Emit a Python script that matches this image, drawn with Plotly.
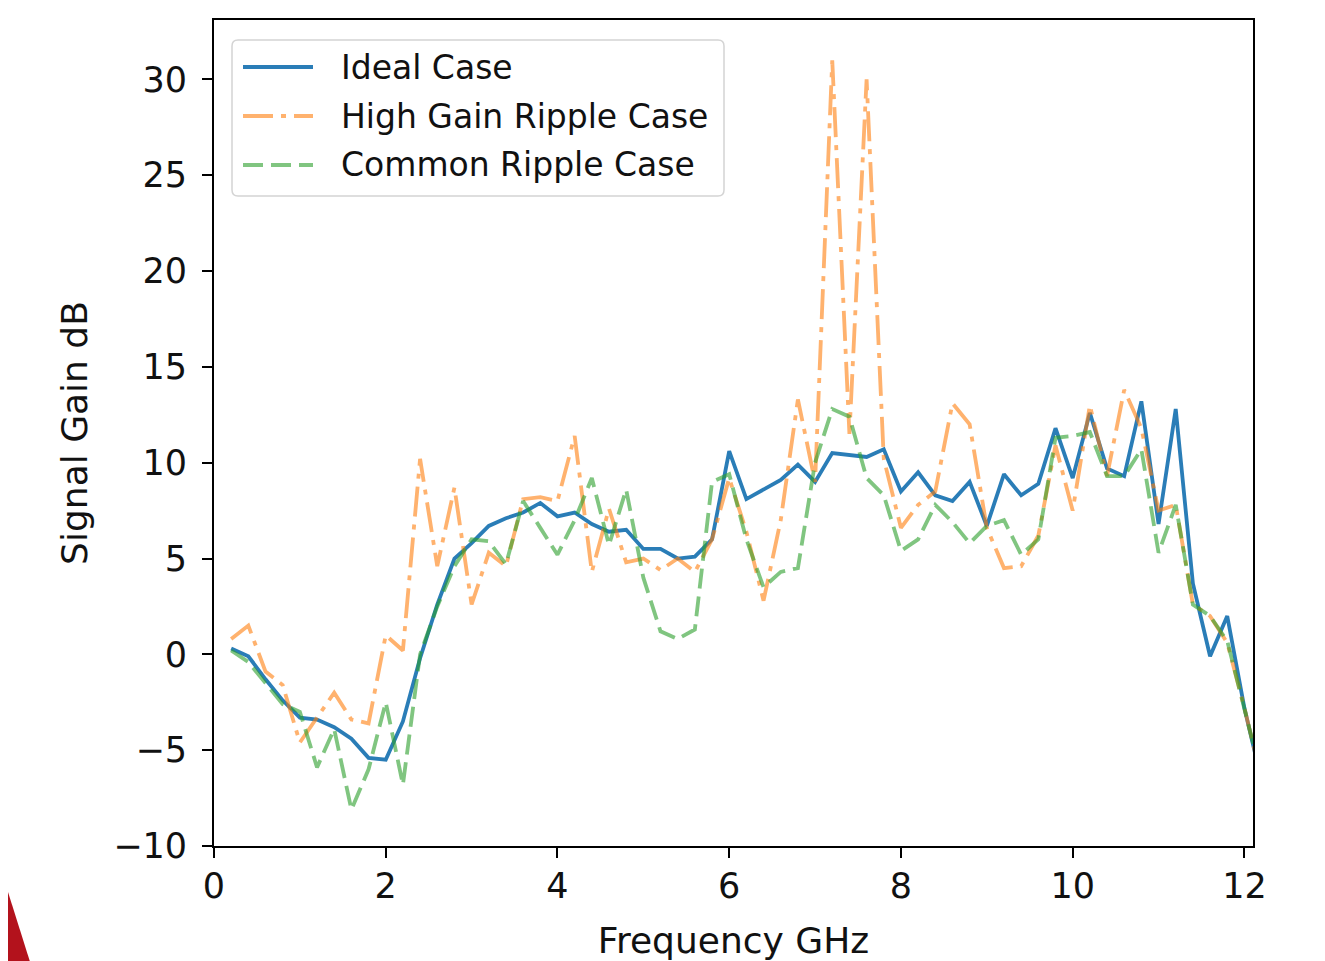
import plotly.graph_objects as go

# ---------------- data ----------------
freq_ghz = [0.2, 0.4, 0.6, 0.8, 1.0, 1.2, 1.4, 1.6, 1.8, 2.0,
            2.2, 2.4, 2.6, 2.8, 3.0, 3.2, 3.4, 3.6, 3.8, 4.0,
            4.2, 4.4, 4.6, 4.8, 5.0, 5.2, 5.4, 5.6, 5.8, 6.0,
            6.2, 6.4, 6.6, 6.8, 7.0, 7.2, 7.4, 7.6, 7.8, 8.0,
            8.2, 8.4, 8.6, 8.8, 9.0, 9.2, 9.4, 9.6, 9.8, 10.0,
            10.2, 10.4, 10.6, 10.8, 11.0, 11.2, 11.4, 11.6, 11.8, 12.0,
            12.2]

ideal_case = [0.3, -0.1, -1.3, -2.4, -3.3, -3.4, -3.8, -4.4, -5.4, -5.5,
              -3.5, -0.2, 2.6, 5.0, 5.8, 6.7, 7.1, 7.4, 7.9, 7.2,
              7.4, 6.8, 6.4, 6.5, 5.5, 5.5, 5.0, 5.1, 6.0, 10.6,
              8.1, 8.6, 9.1, 9.9, 9.0, 10.5, 10.4, 10.3, 10.7, 8.5,
              9.5, 8.3, 8.0, 9.0, 6.7, 9.4, 8.3, 8.9, 11.8, 9.2,
              12.6, 9.7, 9.3, 13.2, 6.8, 12.8, 3.7, -0.1, 2.0, -2.8,
              -6.6]

high_gain_ripple = [0.8, 1.5, -0.9, -1.6, -4.6, -3.3, -2.0, -3.4, -3.6, 1.0,
                    0.2, 10.2, 4.6, 8.7, 2.6, 5.3, 4.6, 8.1, 8.2, 8.0,
                    11.4, 4.3, 7.6, 4.8, 5.0, 4.4, 5.0, 4.3, 6.0, 9.2,
                    6.4, 2.8, 7.0, 13.3, 9.0, 31.0, 11.5, 30.0, 10.2, 6.6,
                    7.8, 8.5, 13.1, 12.0, 6.6, 4.5, 4.6, 6.2, 10.9, 7.5,
                    13.0, 9.3, 13.8, 11.8, 7.5, 7.8, 2.6, 2.0, 0.6, -2.8,
                    -6.5]

common_ripple = [0.2, -0.4, -1.5, -2.6, -3.0, -5.9, -3.9, -8.1, -6.0, -2.5,
                 -6.8, 0.0, 2.5, 4.6, 6.0, 5.9, 4.7, 8.0, 6.6, 5.2,
                 7.0, 9.2, 5.7, 8.6, 4.0, 1.2, 0.8, 1.3, 9.0, 9.4,
                 6.0, 3.5, 4.3, 4.5, 10.0, 12.8, 12.4, 9.2, 8.3, 5.4,
                 6.0, 7.8, 6.9, 5.8, 6.7, 7.0, 5.2, 6.0, 11.3, 11.4,
                 11.6, 9.3, 9.3, 10.7, 5.3, 7.8, 2.6, 2.0, 0.7, -2.8,
                 -6.4]

series_names = ["Ideal Case", "High Gain Ripple Case", "Common Ripple Case"]
x_ticks = [0, 2, 4, 6, 8, 10, 12]
y_ticks = [-10, -5, 0, 5, 10, 15, 20, 25, 30]

# ---------------- styling ----------------
FONT = "DejaVu Sans"
BLUE = "#1f77b4"
ORANGE = "#ff7f0e"
GREEN = "#2ca02c"
LW = 3.8
DASH_ORANGE = "30px,8px,5px,8px"
DASH_GREEN = "20px,8px"

fig = go.Figure()
fig.add_trace(go.Scatter(x=freq_ghz, y=ideal_case, mode="lines", name=series_names[0],
                         line=dict(color=BLUE, width=LW), opacity=0.95, showlegend=False))
fig.add_trace(go.Scatter(x=freq_ghz, y=high_gain_ripple, mode="lines", name=series_names[1],
                         line=dict(color=ORANGE, width=LW, dash=DASH_ORANGE), opacity=0.6,
                         showlegend=False))
fig.add_trace(go.Scatter(x=freq_ghz, y=common_ripple, mode="lines", name=series_names[2],
                         line=dict(color=GREEN, width=LW, dash=DASH_GREEN), opacity=0.6,
                         showlegend=False))

# the page body has an 8px margin: the figure starts at (8, 8) in the window
OFF = 8
WIN_W, WIN_H = 1325, 961
W, H = WIN_W - OFF, WIN_H - OFF
# plot-area edges in window pixels
L, R, T, B = 214, 1253, 20, 846


def px(xp):
    return (xp - L) / (R - L)


def py(yp):
    return (B - yp) / (B - T)


shapes = []
# legend frame (rounded rectangle)
x0, x1, y0, y1 = px(232), px(724), py(196), py(40)
rx, ry = 6 / (R - L), 6 / (B - T)
path = (f"M {x0+rx},{y0} L {x1-rx},{y0} Q {x1},{y0} {x1},{y0+ry} "
        f"L {x1},{y1-ry} Q {x1},{y1} {x1-rx},{y1} L {x0+rx},{y1} "
        f"Q {x0},{y1} {x0},{y1-ry} L {x0},{y0+ry} Q {x0},{y0} {x0+rx},{y0} Z")
shapes.append(dict(type="path", xref="paper", yref="paper", path=path,
                   fillcolor="rgba(255,255,255,0.85)", line=dict(color="#d4d4d4", width=1.5),
                   layer="above"))
annotations = []
rows = [67, 116, 165]
styles = [(BLUE, "solid", 0.95), (ORANGE, DASH_ORANGE, 0.6), (GREEN, DASH_GREEN, 0.6)]
for name, ry_px, (col, dash, op) in zip(series_names, rows, styles):
    shapes.append(dict(type="line", xref="paper", yref="paper",
                       x0=px(243), x1=px(313), y0=py(ry_px), y1=py(ry_px),
                       line=dict(color=col, width=LW, dash=dash), opacity=op, layer="above"))
    annotations.append(dict(xref="paper", yref="paper", x=px(339), y=py(ry_px),
                            xanchor="left", yanchor="middle", text=name, showarrow=False,
                            font=dict(family=FONT, size=33, color="#111111")))

# red corner decoration of the original slide
shapes.append(dict(type="path", xref="paper", yref="paper",
                   path=f"M {px(0)},{py(873)} L {px(2)},{py(873)} L {px(31)},{py(965)} L {px(0)},{py(965)} Z",
                   fillcolor="#b3121c", line=dict(width=0), layer="above"))

axis_common = dict(showline=True, linecolor="black", linewidth=2, mirror=True,
                   ticks="outside", ticklen=10, tickwidth=2, tickcolor="black",
                   showgrid=False, zeroline=False, automargin=False,
                   tickfont=dict(family=FONT, size=35, color="#111111"),
                   title_font=dict(family=FONT, size=36, color="#111111"))

fig.update_layout(
    width=W, height=H,
    margin=dict(l=L - OFF, r=WIN_W - R, t=T - OFF, b=WIN_H - B, autoexpand=False),
    paper_bgcolor="white", plot_bgcolor="white",
    font=dict(family=FONT, color="#111111"),
    xaxis=dict(range=[0, 12.1], tickmode="array", tickvals=x_ticks,
               title=dict(text="Frequency GHz", standoff=23), ticklabelstandoff=-2,
               **axis_common),
    yaxis=dict(range=[-10, 33.1], tickmode="array", tickvals=y_ticks,
               title=dict(text="Signal Gain dB", standoff=15), ticklabelstandoff=8,
               **axis_common),
    shapes=shapes, annotations=annotations,
    showlegend=False,
)

fig.write_html("out.html")
